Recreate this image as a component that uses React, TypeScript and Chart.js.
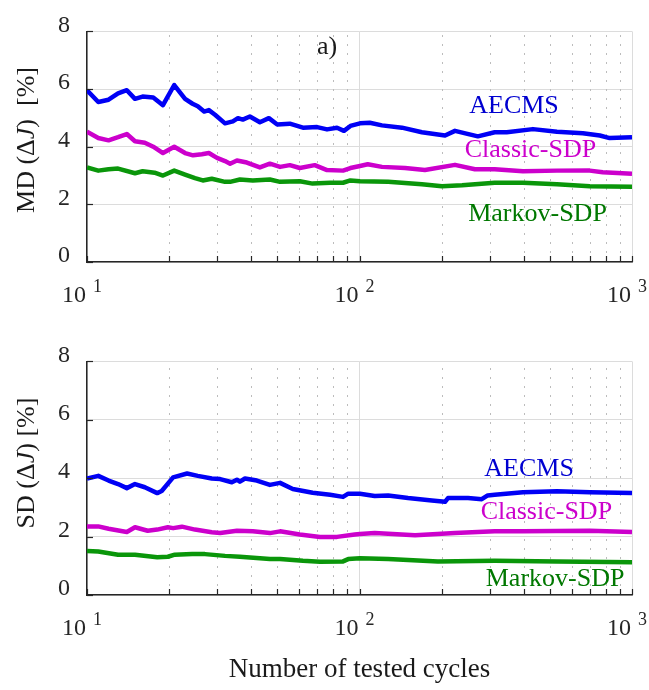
import React, { useEffect, useRef } from "react";
import { Chart, registerables } from "chart.js";
Chart.register(...registerables);

const SERIF = '"Liberation Serif", "Times New Roman", Times, serif';

// ---- axes ----
const xGridTicks = [10, 20, 30, 40, 50, 60, 70, 80, 90, 100, 200, 300, 400, 500, 600, 700, 800, 900, 1000];
const xMajorTicks = [10, 100, 1000];
const yMin = 0;
const yMax = 8;
const yStep = 2;

// ---- series names / colours ----
const seriesNames = ["AECMS", "Classic-SDP", "Markov-SDP"];
const lineColors = ["#0000f5", "#cc00cc", "#0a960a"];
const textColors = ["#0000d0", "#cc00cc", "#007800"];

// ---- panel a) : MD(ΔJ) ----
const mdAecmsX = [10, 11, 12, 13, 14, 15, 16, 17.5, 19, 20.9, 22.9, 24.4, 25.5, 26.9, 28, 29.5, 32.1, 34.3, 35.8, 37.3, 39.6, 43.1, 46.5, 49.9, 55.5, 62, 69.9, 76, 82.7, 87.7, 92.6, 100.4, 109.1, 120.9, 143.2, 169.4, 206, 224.1, 271.8, 313.4, 347, 433, 530.5, 660, 762, 828, 1000];
const mdAecmsY = [5.96, 5.55, 5.63, 5.85, 5.96, 5.66, 5.74, 5.71, 5.44, 6.14, 5.66, 5.49, 5.40, 5.22, 5.27, 5.11, 4.81, 4.88, 4.99, 4.94, 5.05, 4.85, 4.99, 4.77, 4.80, 4.66, 4.68, 4.60, 4.66, 4.55, 4.72, 4.81, 4.83, 4.74, 4.66, 4.50, 4.39, 4.55, 4.36, 4.50, 4.50, 4.61, 4.52, 4.47, 4.39, 4.30, 4.33];

const mdClassicX = [10, 11, 12, 13, 14, 15, 16.3, 17.5, 19, 20.9, 22.9, 24.5, 26.4, 28, 30, 32.1, 33.5, 35.5, 38.6, 43.1, 46.9, 51.1, 55.5, 60.4, 68.5, 76, 87, 92.6, 100.4, 107.2, 120.9, 146.9, 173.8, 224.1, 265.1, 313.4, 398, 530.5, 700, 781, 1000];
const mdClassicY = [4.52, 4.30, 4.22, 4.33, 4.44, 4.19, 4.14, 4.00, 3.78, 4.00, 3.78, 3.70, 3.74, 3.78, 3.61, 3.50, 3.41, 3.52, 3.45, 3.28, 3.41, 3.30, 3.36, 3.26, 3.36, 3.19, 3.17, 3.26, 3.33, 3.39, 3.30, 3.26, 3.19, 3.37, 3.22, 3.22, 3.15, 3.17, 3.17, 3.11, 3.06];

const mdMarkovX = [10, 11, 12, 13, 15, 16, 17.7, 19, 20.9, 22.9, 24.9, 26.6, 28.7, 32.1, 33.5, 36.4, 40.6, 46.9, 51.1, 60.4, 67.3, 78, 87, 92.6, 100.4, 127.4, 169.4, 200.8, 237.9, 313.4, 398, 530.5, 700, 1000];
const mdMarkovY = [3.28, 3.17, 3.22, 3.24, 3.08, 3.15, 3.10, 3.00, 3.17, 3.03, 2.91, 2.83, 2.89, 2.78, 2.78, 2.86, 2.83, 2.86, 2.78, 2.80, 2.72, 2.75, 2.75, 2.83, 2.80, 2.78, 2.70, 2.63, 2.66, 2.75, 2.75, 2.70, 2.63, 2.61];

const mdLabelX = [369, 424, 450];
const mdLabelY = [5.42, 3.87, 1.66];
const panelLetterX = 76;
const panelLetterY = 7.44;

// ---- panel b) : SD(ΔJ) ----
const sdAecmsX = [10, 11, 12, 13, 14, 15, 16.3, 18.1, 18.8, 20.7, 23.3, 25.5, 28.7, 30.8, 34, 35.5, 36.4, 38, 42, 46.9, 51.1, 56.9, 67.3, 78, 87, 90.9, 100.4, 113.7, 127.4, 150.7, 184.3, 206, 211.2, 250.2, 281, 295.4, 313.4, 398, 530.5, 700, 1000];
const sdAecmsY = [3.99, 4.08, 3.92, 3.80, 3.66, 3.80, 3.69, 3.49, 3.56, 4.03, 4.16, 4.08, 3.99, 3.97, 3.86, 3.95, 3.88, 3.99, 3.92, 3.77, 3.84, 3.63, 3.50, 3.43, 3.36, 3.47, 3.47, 3.39, 3.41, 3.32, 3.24, 3.19, 3.32, 3.32, 3.28, 3.41, 3.43, 3.52, 3.55, 3.52, 3.49];

const sdClassicX = [10, 11, 12, 14, 15, 16.7, 18.1, 19.8, 20.7, 22.3, 24.9, 28.7, 30.8, 35.5, 40.6, 46.9, 51.1, 60.4, 71.6, 82.7, 96.1, 100.4, 113.7, 159.9, 224.1, 313.4, 398, 700, 1000];
const sdClassicY = [2.35, 2.35, 2.27, 2.16, 2.32, 2.20, 2.24, 2.32, 2.29, 2.34, 2.24, 2.15, 2.12, 2.20, 2.18, 2.12, 2.18, 2.07, 1.99, 1.99, 2.07, 2.09, 2.12, 2.05, 2.12, 2.18, 2.18, 2.20, 2.16];

const sdMarkovX = [10, 11, 13, 15, 18.1, 19.8, 21, 24.3, 27.1, 32.1, 36.4, 46.9, 51.1, 62, 71.6, 87, 90.9, 100.4, 127.4, 194, 313.4, 530.5, 1000];
const sdMarkovY = [1.51, 1.49, 1.38, 1.38, 1.29, 1.31, 1.38, 1.40, 1.40, 1.34, 1.31, 1.23, 1.23, 1.17, 1.14, 1.15, 1.23, 1.26, 1.23, 1.15, 1.17, 1.15, 1.12];

const sdLabelX = [419, 485, 522];
const sdLabelY = [4.3, 2.84, 0.53];

const xTitle = "Number of tested cycles";

type Run = { text: string; italic?: boolean };

const mdTitle: Run[] = [{ text: "MD (Δ" }, { text: "J", italic: true }, { text: ")  [%]" }];
const sdTitle: Run[] = [{ text: "SD (Δ" }, { text: "J", italic: true }, { text: ") [%]" }];

type Panel = {
  height: number;
  areaTop: number;
  areaBottom: number;
  xs: number[][];
  ys: number[][];
  labelX: number[];
  labelY: number[];
  yTitle: Run[];
  yTitleY: number;
  letter?: string;
  showXTitle?: boolean;
  xTitleY?: number;
};

const topPanel: Panel = {
  height: 330,
  areaTop: 21,
  areaBottom: 262,
  xs: [mdAecmsX, mdClassicX, mdMarkovX],
  ys: [mdAecmsY, mdClassicY, mdMarkovY],
  labelX: mdLabelX,
  labelY: mdLabelY,
  yTitle: mdTitle,
  yTitleY: 140,
  letter: "a)",
};

const bottomPanel: Panel = {
  height: 360,
  areaTop: 26,
  areaBottom: 265,
  xs: [sdAecmsX, sdClassicX, sdMarkovX],
  ys: [sdAecmsY, sdClassicY, sdMarkovY],
  labelX: sdLabelX,
  labelY: sdLabelY,
  yTitle: sdTitle,
  yTitleY: 133,
  showXTitle: true,
  xTitleY: 340,
};

function drawRuns(ctx: CanvasRenderingContext2D, runs: Run[], cx: number, cy: number, rotate: boolean, size: number) {
  ctx.save();
  ctx.translate(cx, cy);
  if (rotate) ctx.rotate(-Math.PI / 2);
  const widths = runs.map((r) => {
    ctx.font = `${r.italic ? "italic " : ""}${size}px ${SERIF}`;
    return ctx.measureText(r.text).width;
  });
  const total = widths.reduce((a, b) => a + b, 0);
  let xx = -total / 2;
  ctx.textBaseline = "middle";
  ctx.textAlign = "left";
  ctx.fillStyle = "#1a1a1a";
  runs.forEach((r, i) => {
    ctx.font = `${r.italic ? "italic " : ""}${size}px ${SERIF}`;
    ctx.fillText(r.text, xx, 0);
    xx += widths[i];
  });
  ctx.restore();
}

function decorPlugin(p: Panel) {
  return {
    id: "decor",
    beforeDatasetsDraw(chart: any) {
      const { ctx, chartArea: a } = chart;
      const xs = chart.scales.x;
      ctx.save();
      ctx.strokeStyle = "#bcbcbc";
      ctx.lineWidth = 1;
      ctx.setLineDash([2, 7]);
      xGridTicks
        .filter((v) => !xMajorTicks.includes(v))
        .forEach((v) => {
          const px = Math.round(xs.getPixelForValue(v)) + 0.5;
          ctx.beginPath();
          ctx.moveTo(px, a.bottom);
          ctx.lineTo(px, a.top);
          ctx.stroke();
        });
      ctx.restore();
    },
    afterDraw(chart: any) {
      const { ctx, chartArea: a } = chart;
      const xs = chart.scales.x;
      const ysc = chart.scales.y;
      ctx.save();
      // inner tick marks
      ctx.strokeStyle = "#262626";
      ctx.lineWidth = 1.2;
      xGridTicks.forEach((v) => {
        const px = Math.round(xs.getPixelForValue(v)) + 0.5;
        ctx.beginPath();
        ctx.moveTo(px, a.bottom);
        ctx.lineTo(px, a.bottom - 6);
        ctx.stroke();
      });
      for (let v = yMin; v <= yMax; v += yStep) {
        const py = Math.round(ysc.getPixelForValue(v)) + 0.5;
        ctx.beginPath();
        ctx.moveTo(a.left, py);
        ctx.lineTo(a.left + 6, py);
        ctx.stroke();
      }
      // x tick labels 10^k
      ctx.fillStyle = "#262626";
      xMajorTicks.forEach((v) => {
        const px = xs.getPixelForValue(v);
        const exp = String(Math.round(Math.log10(v)));
        ctx.font = `24px ${SERIF}`;
        ctx.textAlign = "right";
        ctx.textBaseline = "alphabetic";
        ctx.fillText("10", px - 1, a.bottom + 40);
        ctx.font = `18px ${SERIF}`;
        ctx.textAlign = "left";
        ctx.fillText(exp, px + 6, a.bottom + 30);
      });
      // series labels
      ctx.font = `26px ${SERIF}`;
      ctx.textAlign = "center";
      ctx.textBaseline = "middle";
      seriesNames.forEach((name, i) => {
        ctx.fillStyle = textColors[i];
        ctx.fillText(name, xs.getPixelForValue(p.labelX[i]), ysc.getPixelForValue(p.labelY[i]));
      });
      // panel letter
      if (p.letter) {
        ctx.fillStyle = "#1a1a1a";
        ctx.font = `26px ${SERIF}`;
        ctx.textAlign = "center";
        ctx.textBaseline = "alphabetic";
        ctx.fillText(p.letter, xs.getPixelForValue(panelLetterX), ysc.getPixelForValue(panelLetterY) + 6);
      }
      ctx.restore();
      // y title
      drawRuns(ctx, p.yTitle, 27, p.yTitleY, true, 26);
      // x title
      if (p.showXTitle && p.xTitleY) {
        drawRuns(ctx, [{ text: xTitle }], (a.left + a.right) / 2, p.xTitleY, false, 27);
      }
    },
  };
}

function makeConfig(p: Panel): any {
  const datasets = p.xs.map((xarr, i) => ({
    label: seriesNames[i],
    data: xarr.map((x, j) => ({ x, y: p.ys[i][j] })),
    borderColor: lineColors[i],
    backgroundColor: lineColors[i],
    borderWidth: 4.5,
    borderJoinStyle: "round",
    pointRadius: 0,
    tension: 0,
    fill: false,
  }));
  return {
    type: "line",
    data: { datasets },
    options: {
      responsive: false,
      animation: false,
      events: [],
      layout: { padding: { top: p.areaTop, bottom: p.height - p.areaBottom, left: 0, right: 17 } },
      plugins: { legend: { display: false }, tooltip: { enabled: false }, title: { display: false } },
      scales: {
        x: {
          type: "logarithmic",
          min: 10,
          max: 1000,
          afterBuildTicks: (scale: any) => {
            scale.ticks = xGridTicks.map((v) => ({ value: v }));
          },
          afterFit: (scale: any) => {
            scale.height = 0;
          },
          ticks: { display: false },
          grid: {
            drawTicks: false,
            lineWidth: 1,
            color: (ctx: any) =>
              ctx.tick && xMajorTicks.includes(ctx.tick.value) ? "#dcdcdc" : "rgba(0,0,0,0)",
          },
          border: { display: true, color: "#262626", width: 1.5 },
        },
        y: {
          type: "linear",
          min: yMin,
          max: yMax,
          afterFit: (scale: any) => {
            scale.width = 87;
          },
          ticks: {
            stepSize: yStep,
            padding: 17,
            labelOffset: -6,
            color: "#262626",
            font: { family: SERIF, size: 24 },
          },
          grid: { drawTicks: false, color: "#dcdcdc", lineWidth: 1 },
          border: { display: true, color: "#262626", width: 1.5 },
        },
      },
    },
    plugins: [decorPlugin(p)],
  };
}

export default function App() {
  const topRef = useRef<HTMLCanvasElement>(null);
  const botRef = useRef<HTMLCanvasElement>(null);
  useEffect(() => {
    const c1 = new Chart(topRef.current as HTMLCanvasElement, makeConfig(topPanel));
    const c2 = new Chart(botRef.current as HTMLCanvasElement, makeConfig(bottomPanel));
    return () => {
      c1.destroy();
      c2.destroy();
    };
  }, []);
  return (
    <div style={{ position: "fixed", left: 0, top: 0, width: 649, height: 690, background: "#fff" }}>
      <canvas ref={topRef} width={649} height={330} style={{ position: "absolute", left: 0, top: 0, display: "block" }} />
      <canvas ref={botRef} width={649} height={360} style={{ position: "absolute", left: 0, top: 330, display: "block" }} />
    </div>
  );
}
